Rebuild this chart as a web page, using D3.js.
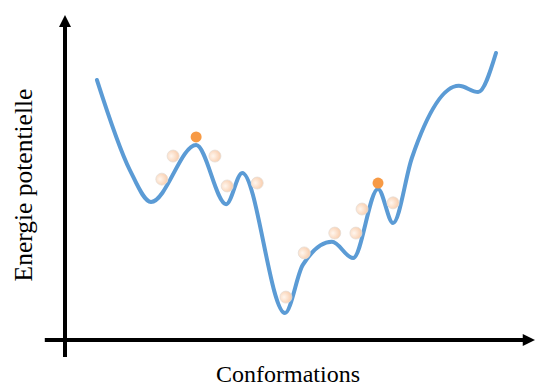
<!DOCTYPE html>
<html>
<head>
<meta charset="utf-8">
<script src="https://cdn.jsdelivr.net/npm/d3@7"></script>
<style>
  html, body { margin: 0; padding: 0; background: #fff; }
  svg { display: block; }
</style>
</head>
<body>
<svg id="chart" width="536" height="388"></svg>
<script>
// energy profile (conformation 0-100, energy 0-100)
const conformations = [6.8, 13.8, 18.3, 27.9, 34.3, 37.7, 46.8, 50.6, 56.8, 61.3, 66.6, 69.8, 73.8, 83.8, 87.9, 91.7];
const energies = [80.0, 52.3, 42.5, 60.0, 41.8, 51.4, 8.3, 23.1, 30.2, 25.2, 46.5, 36.0, 56.0, 78.2, 76.3, 88.3];

// sampled conformations (pale dots)
const sampleX = [20.6, 23.0, 31.9, 34.5, 40.9, 47.0, 50.9, 57.4, 61.9, 63.2, 69.8];
const sampleY = [49.5, 56.6, 56.6, 47.4, 48.3, 13.2, 26.8, 32.9, 32.9, 40.3, 42.2];

// transition states (orange dots)
const peakX = [27.9, 66.6];
const peakY = [62.5, 48.3];

const xLabel = 'Conformations';
const yLabel = 'Energie potentielle';

const svg = d3.select('#chart');

const x = d3.scaleLinear().domain([0, 100]).range([65, 535]);
const y = d3.scaleLinear().domain([0, 100]).range([340, 15]);

const defs = svg.append('defs');
const grad = defs.append('radialGradient')
    .attr('id', 'pale')
    .attr('cx', '35%').attr('cy', '50%').attr('r', '70%');
grad.append('stop').attr('offset', '0%').attr('stop-color', '#fff6ee');
grad.append('stop').attr('offset', '100%').attr('stop-color', '#f8c9a6');

// axes
const axisColor = '#000';
svg.append('line')
    .attr('x1', x(0)).attr('x2', x(0))
    .attr('y1', y(-5.2)).attr('y2', y(97))
    .attr('stroke', axisColor).attr('stroke-width', 4);
svg.append('path')
    .attr('d', `M${x(0)},${y(100)} L${x(0) - 6},${y(96.3)} L${x(0) + 6},${y(96.3)} Z`)
    .attr('fill', axisColor);

svg.append('line')
    .attr('x1', x(-4.3)).attr('x2', x(97.8))
    .attr('y1', y(0)).attr('y2', y(0))
    .attr('stroke', axisColor).attr('stroke-width', 4);
svg.append('path')
    .attr('d', `M${x(100)},${y(0)} L${x(97.4)},${y(0) - 6} L${x(97.4)},${y(0) + 6} Z`)
    .attr('fill', axisColor);

// energy curve
const pts = conformations.map((c, i) => ({c: c, e: energies[i]}));
const line = d3.line()
    .x(d => x(d.c))
    .y(d => y(d.e))
    .curve(d3.curveMonotoneX);

svg.append('path')
    .datum(pts)
    .attr('fill', 'none')
    .attr('stroke', '#5b9bd5')
    .attr('stroke-width', 4)
    .attr('stroke-linecap', 'round')
    .attr('d', line);

// sampled points
svg.selectAll('.sample')
    .data(sampleX.map((c, i) => ({c: c, e: sampleY[i]})))
    .enter().append('circle')
    .attr('class', 'sample')
    .attr('cx', d => x(d.c))
    .attr('cy', d => y(d.e))
    .attr('r', 6)
    .attr('fill', 'url(#pale)')
    .attr('stroke', '#e6ddd6')
    .attr('stroke-width', 0.8);

svg.selectAll('.peak')
    .data(peakX.map((c, i) => ({c: c, e: peakY[i]})))
    .enter().append('circle')
    .attr('class', 'peak')
    .attr('cx', d => x(d.c))
    .attr('cy', d => y(d.e))
    .attr('r', 5.5)
    .attr('fill', '#f79a45');

// labels
svg.append('text')
    .attr('x', 288)
    .attr('y', 382)
    .attr('text-anchor', 'middle')
    .attr('font-family', 'Liberation Serif, serif')
    .attr('font-size', '24px')
    .attr('fill', '#000')
    .text(xLabel);

svg.append('text')
    .attr('transform', 'translate(32,185) rotate(-90)')
    .attr('text-anchor', 'middle')
    .attr('font-family', 'Liberation Serif, serif')
    .attr('font-size', '25.5px')
    .attr('fill', '#000')
    .text(yLabel);
</script>
</body>
</html>
